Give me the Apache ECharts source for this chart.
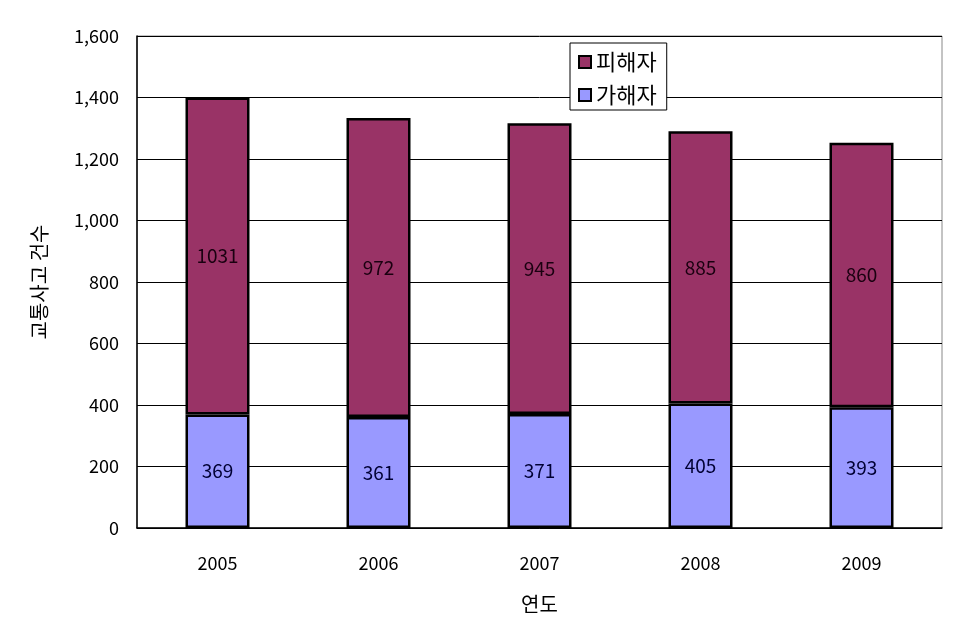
<!DOCTYPE html>
<html>
<head>
<meta charset="utf-8">
<script src="https://cdn.jsdelivr.net/npm/echarts@6/dist/echarts.min.js"></script>
<style>
  html, body { margin: 0; padding: 0; background: #fff; }
  #chart { width: 968px; height: 619px; }
</style>
</head>
<body>
<div id="chart"></div>
<script>
// 연도별 교통사고 건수
const years = ["2005", "2006", "2007", "2008", "2009"];
const offenders = [369, 361, 371, 405, 393];   // 가해자
const victims = [1031, 972, 945, 885, 860];    // 피해자
const yTicks = [0, 200, 400, 600, 800, 1000, 1200, 1400, 1600];

const font = "'Noto Sans CJK KR', 'DejaVu Sans', sans-serif";

let myChart = echarts.init(document.getElementById("chart"));
let option = {
  backgroundColor: "#fff",
  textStyle: { fontFamily: font },
  grid: {
    left: 137,
    right: 26,
    top: 36,
    bottom: 89,
    show: true,
    borderColor: "#888",
    borderWidth: 1,
  },
  legend: {
    orient: "vertical",
    left: 570,
    top: 43,
    data: ["피해자", "가해자"],
    icon: "rect",
    itemWidth: 12,
    itemHeight: 12,
    itemGap: 11,
    padding: [8, 10, 4, 8],
    backgroundColor: "#fff",
    borderColor: "#000",
    borderWidth: 1,
    borderRadius: 0,
    textStyle: { fontSize: 22, color: "#000", fontFamily: font },
  },
  xAxis: {
    type: "category",
    data: years,
    name: "연도",
    nameLocation: "middle",
    nameGap: 66,
    nameTextStyle: { fontSize: 20, color: "#000" },
    axisLine: { lineStyle: { color: "#000", width: 1.5 } },
    axisTick: { inside: true, length: 8, lineStyle: { color: "#000" } },
    axisLabel: { fontSize: 18, color: "#000", margin: 26 },
  },
  yAxis: {
    type: "value",
    min: yTicks[0],
    max: yTicks[yTicks.length - 1],
    interval: 200,
    name: "교통사고 건수",
    nameLocation: "middle",
    nameGap: 88,
    nameRotate: 90,
    nameTextStyle: { fontSize: 20, color: "#000" },
    axisLine: { show: true, lineStyle: { color: "#000", width: 1.5 } },
    axisTick: { show: false },
    axisLabel: {
      fontSize: 18,
      color: "#000",
      margin: 18,
      formatter: (v) => v.toLocaleString("en-US"),
    },
    splitLine: { lineStyle: { color: "#000", width: 1 } },
  },
  series: [
    {
      name: "가해자",
      type: "bar",
      stack: "total",
      barWidth: 64,
      data: offenders,
      itemStyle: { color: "#9999FF", borderColor: "#000", borderWidth: 2.5 },
      label: { show: true, position: "inside", fontSize: 19, color: "#000033" },
    },
    {
      name: "피해자",
      type: "bar",
      stack: "total",
      barWidth: 64,
      data: victims,
      itemStyle: { color: "#993366", borderColor: "#000", borderWidth: 2.5 },
      label: { show: true, position: "inside", fontSize: 19, color: "#1a0010" },
    },
  ],
};
myChart.setOption(option);
</script>
</body>
</html>
